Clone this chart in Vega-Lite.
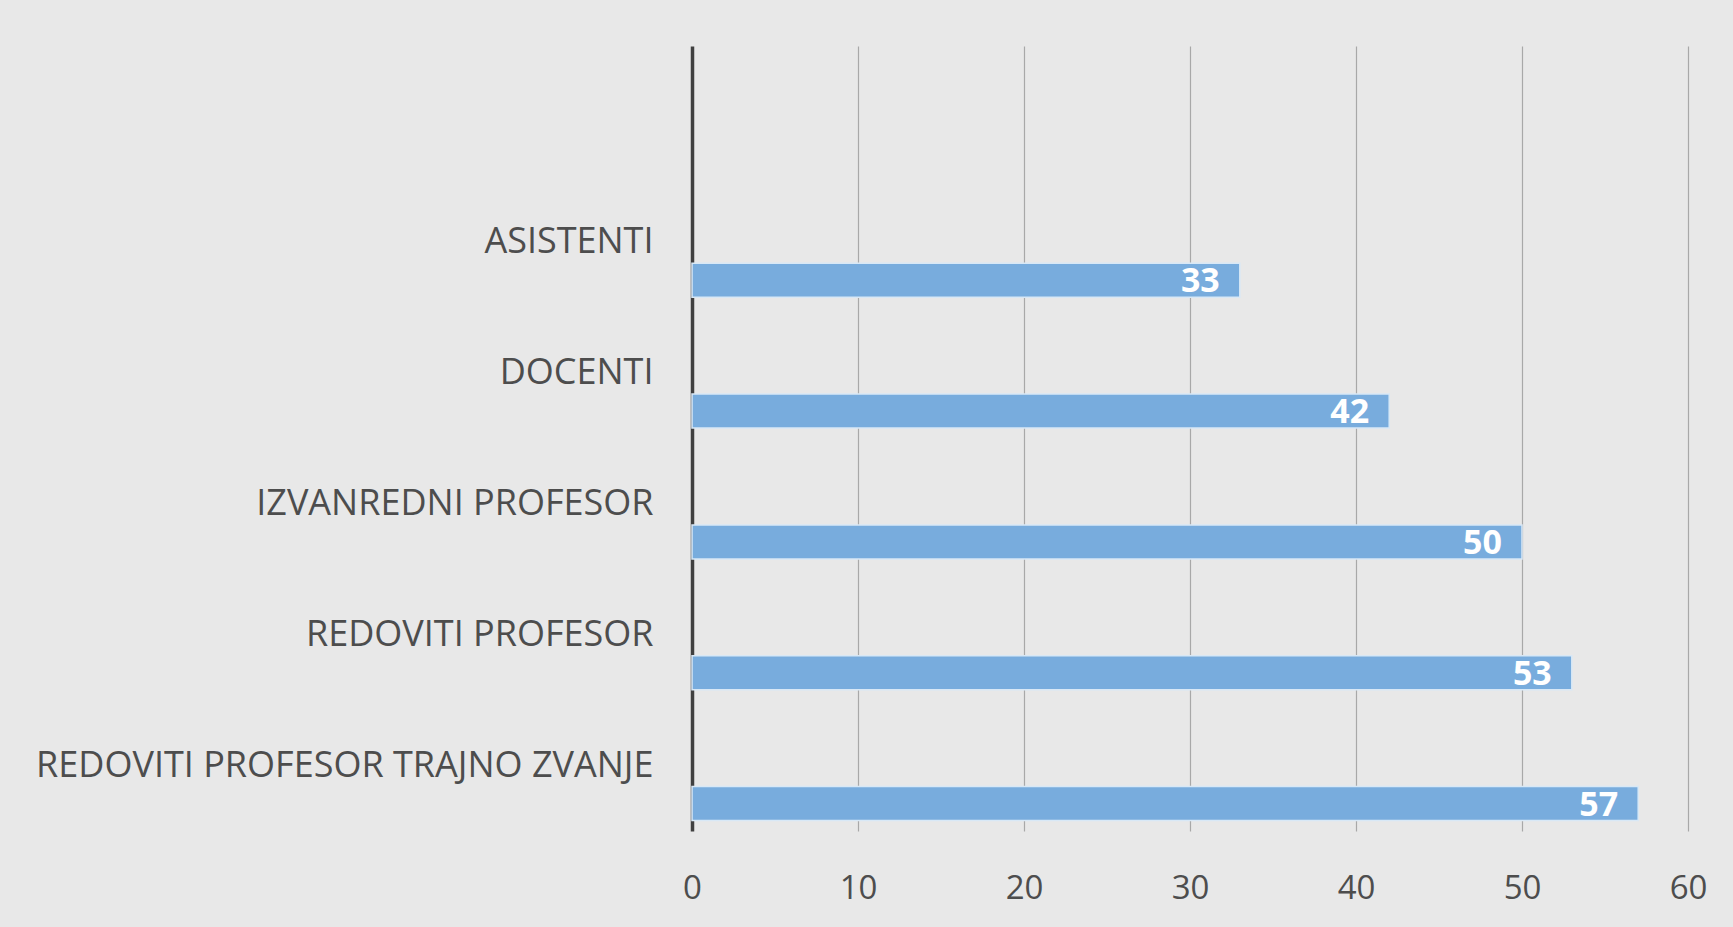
{
  "$schema": "https://vega.github.io/schema/vega-lite/v6.json",
  "width": 996,
  "height": 785,
  "autosize": {"type": "none"},
  "padding": {"left": 692, "top": 46, "right": 45, "bottom": 96},
  "background": "#e8e8e8",
  "config": {"view": {"stroke": null}},
  "data": {
    "values": [
      {"kategorija": "ASISTENTI", "broj": 33},
      {"kategorija": "DOCENTI", "broj": 42},
      {"kategorija": "IZVANREDNI PROFESOR", "broj": 50},
      {"kategorija": "REDOVITI PROFESOR", "broj": 53},
      {"kategorija": "REDOVITI PROFESOR TRAJNO ZVANJE", "broj": 57}
    ]
  },
  "encoding": {
    "y": {
      "field": "kategorija",
      "type": "nominal",
      "sort": null,
      "scale": {
        "domain": [" ", "ASISTENTI", "DOCENTI", "IZVANREDNI PROFESOR", "REDOVITI PROFESOR", "REDOVITI PROFESOR TRAJNO ZVANJE"],
        "paddingInner": 0,
        "paddingOuter": 0
      },
      "axis": {
        "title": null,
        "domain": false,
        "ticks": false,
        "tickSize": 0,
        "labelPadding": 39,
        "labelFont": "Open Sans",
        "labelFontSize": 36,
        "labelColor": "#4d4d4d",
        "labelLimit": 0
      }
    },
    "x": {
      "field": "broj",
      "type": "quantitative",
      "scale": {"domain": [0, 60], "nice": false},
      "axis": {
        "title": null,
        "values": [0, 10, 20, 30, 40, 50, 60],
        "domain": false,
        "ticks": false,
        "tickSize": 0,
        "labelFlush": false,
        "labelPadding": 41,
        "labelFont": "Open Sans",
        "labelFontSize": 33,
        "labelColor": "#4d4d4d",
        "grid": true,
        "gridColor": {"condition": {"test": "datum.value === 0", "value": "#404040"}, "value": "#a8a8a8"},
        "gridWidth": {"condition": {"test": "datum.value === 0", "value": 3.5}, "value": 1.2},
        "gridOpacity": 1
      }
    }
  },
  "layer": [
    {
      "mark": {"type": "bar", "height": 34, "yOffset": 38, "color": "#78acdd", "stroke": "#d8e8f6", "strokeWidth": 1.5}
    },
    {
      "mark": {"type": "text", "align": "right", "baseline": "middle", "dx": -20, "yOffset": 40, "font": "Open Sans", "fontWeight": "bold", "fontSize": 34, "color": "#ffffff"},
      "encoding": {"text": {"field": "broj", "type": "quantitative"}}
    }
  ]
}
